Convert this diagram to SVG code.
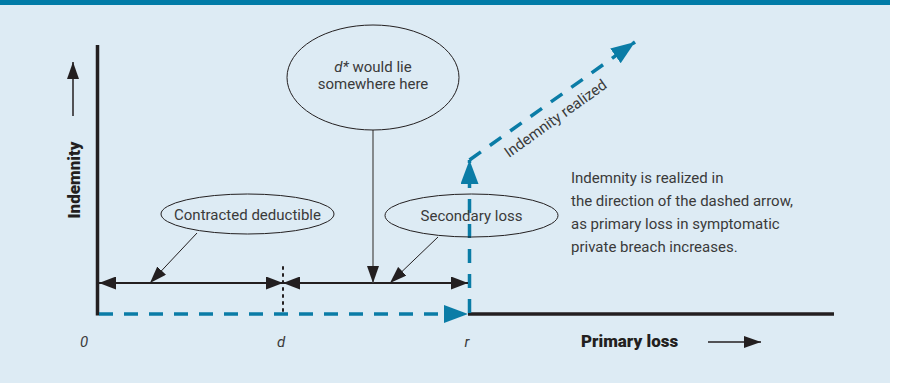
<svg xmlns="http://www.w3.org/2000/svg" width="902" height="383" viewBox="0 0 902 383">
<style>
.t{font-family:Roboto,"Liberation Sans",sans-serif;font-size:15px;fill:#3a3a3a}
.b{font-family:Roboto,"Liberation Sans",sans-serif;font-size:17px;font-weight:900;fill:#231f20}
.i{font-style:italic}
.ell{fill:none;stroke:#231f20;stroke-width:1}
.blk{stroke:#231f20;fill:none}
.blue{stroke:#0a7ca6;stroke-width:3.5;fill:none;stroke-dasharray:14 11}
</style>
<defs>
<marker id="ah" markerUnits="userSpaceOnUse" markerWidth="17" markerHeight="13" refX="17" refY="6.5" orient="auto-start-reverse"><path d="M0,0 L17,6.5 L0,13 Z" fill="#231f20"/></marker>
<marker id="ahs" markerUnits="userSpaceOnUse" markerWidth="17" markerHeight="12" refX="17" refY="6" orient="auto"><path d="M0,0 L17,6 L0,12 Z" fill="#231f20"/></marker>
<marker id="bh" markerUnits="userSpaceOnUse" markerWidth="24" markerHeight="18" refX="24" refY="9" orient="auto"><path d="M0,0 L24,9 L0,18 Z" fill="#0a7ca6"/></marker>
</defs>
<rect x="0" y="0" width="890" height="383" fill="#ddebf4"/>
<rect x="0" y="0" width="890" height="5" fill="#007ba7"/>

<g id="axes">
<line x1="97.5" y1="45" x2="97.5" y2="315.5" stroke="#231f20" stroke-width="3.5"/>
<line x1="468" y1="314" x2="834" y2="314" stroke="#231f20" stroke-width="3.5"/>
<line x1="73" y1="116" x2="73" y2="62" class="blk" stroke-width="1.5" marker-end="url(#ahs)"/>
<text class="b" transform="translate(80,180) rotate(-90)" text-anchor="middle">Indemnity</text>
<text class="b" x="581" y="347">Primary loss</text>
<line x1="708" y1="342" x2="761" y2="342" class="blk" stroke-width="1.5" marker-end="url(#ahs)"/>
<text class="t i" x="84" y="347" text-anchor="middle">0</text>
<text class="t i" x="281" y="347" text-anchor="middle">d</text>
<text class="t i" x="467" y="347" text-anchor="middle">r</text>
</g>

<g id="connectors">
<line x1="99" y1="314" x2="468" y2="314" class="blue" marker-end="url(#bh)"/>
<line x1="469.5" y1="313" x2="469.5" y2="160" class="blue" marker-end="url(#bh)"/>
<line x1="469.5" y1="160" x2="635" y2="42" class="blue" marker-end="url(#bh)"/>
<line x1="283" y1="267" x2="283" y2="315" stroke="#231f20" stroke-width="2" stroke-dasharray="2 5" stroke-linecap="round"/>
<line x1="99" y1="283" x2="283" y2="283" class="blk" stroke-width="2" marker-start="url(#ah)" marker-end="url(#ah)"/>
<line x1="283" y1="283" x2="468" y2="283" class="blk" stroke-width="2" marker-start="url(#ah)" marker-end="url(#ah)"/>
<line x1="373" y1="130" x2="373" y2="283" stroke="#555" stroke-width="1.3" marker-end="url(#ahs)"/>
<line x1="197" y1="233" x2="150" y2="283" class="blk" stroke-width="1" marker-end="url(#ahs)"/>
<line x1="438" y1="237" x2="390" y2="283" class="blk" stroke-width="1" marker-end="url(#ahs)"/>
<text class="t" transform="translate(509,158) rotate(-35.6)">Indemnity realized</text>
</g>

<g id="node-dstar">
<ellipse cx="373" cy="77.5" rx="86" ry="52.5" class="ell"/>
<text class="t" x="373" y="72" text-anchor="middle"><tspan class="i">d*</tspan> would lie</text>
<text class="t" x="373" y="89" text-anchor="middle">somewhere here</text>
</g>

<g id="node-deductible">
<ellipse cx="247.5" cy="214" rx="86.5" ry="20" class="ell"/>
<text class="t" x="247.5" y="219.5" text-anchor="middle">Contracted deductible</text>
</g>

<g id="node-secondary">
<ellipse cx="471.5" cy="215.5" rx="86.5" ry="21.5" class="ell"/>
<text class="t" x="471.5" y="221" text-anchor="middle">Secondary loss</text>
</g>

<g id="note">
<text class="t" x="571" y="183">Indemnity is realized in</text>
<text class="t" x="571" y="206">the direction of the dashed arrow,</text>
<text class="t" x="571" y="229">as primary loss in symptomatic</text>
<text class="t" x="571" y="252">private breach increases.</text>
</g>
</svg>
